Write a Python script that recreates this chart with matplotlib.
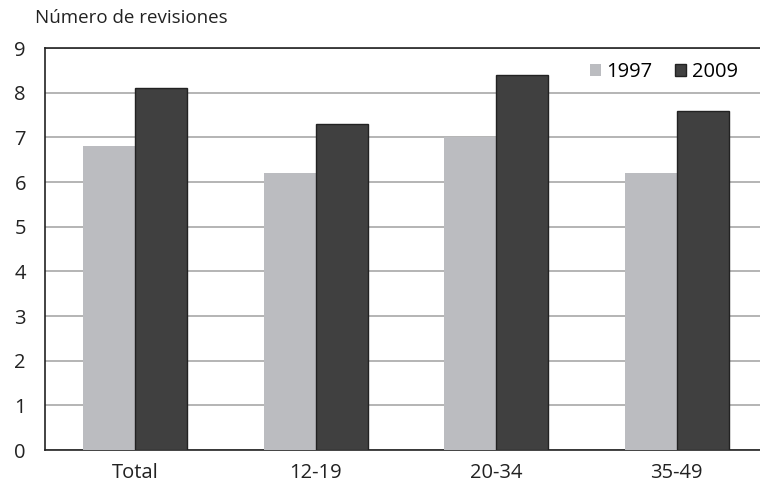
import numpy as np
import matplotlib
matplotlib.use("Agg")
import matplotlib.pyplot as plt

categories = ["Total", "12-19", "20-34", "35-49"]
years = ["1997", "2009"]
values_1997 = [6.8, 6.2, 7.0, 6.2]
values_2009 = [8.1, 7.3, 8.4, 7.6]

plt.rcParams['font.family'] = ['Open Sans', 'DejaVu Sans']

fig = plt.figure(figsize=(7.6, 4.88), dpi=100)
ax = fig.add_axes([45 / 760, 38 / 488, 722 / 760, 402 / 488])

x = np.arange(len(categories))
w = 0.288
ax.bar(x - w / 2, values_1997, w, color='#bbbcc0', label=years[0], zorder=3)
ax.bar(x + w / 2, values_2009, w, color='#404040', edgecolor='#222222',
       linewidth=1.0, label=years[1], zorder=3)

ax.set_xlim(-0.5, 3.5)
ax.set_ylim(0, 9)
ax.set_yticks(range(0, 10))
ax.set_xticks(x)
ax.set_xticklabels(categories)
ax.tick_params(length=0, labelsize=14.5, colors='#222222')
ax.tick_params(axis='x', pad=9)
ax.tick_params(axis='y', pad=22)
for lbl in ax.get_yticklabels():
    lbl.set_horizontalalignment('left')
ax.grid(axis='y', color='#a8a8a8', linewidth=1.2, zorder=0)

for side in ['left', 'top', 'bottom']:
    ax.spines[side].set_color('#222222')
    ax.spines[side].set_linewidth(1.2)
ax.spines['right'].set_visible(False)

fig.text(35 / 760, 1 - 18 / 488, "Número de revisiones", fontsize=13.5,
         color='#222222', va='center', ha='left')

ax.legend(loc='upper right', bbox_to_anchor=(0.985, 1.01), ncol=2, frameon=False,
          fontsize=14.5, handlelength=0.55, handleheight=0.55, handletextpad=0.3,
          columnspacing=1.1)

fig.savefig("out.png", dpi=100)
